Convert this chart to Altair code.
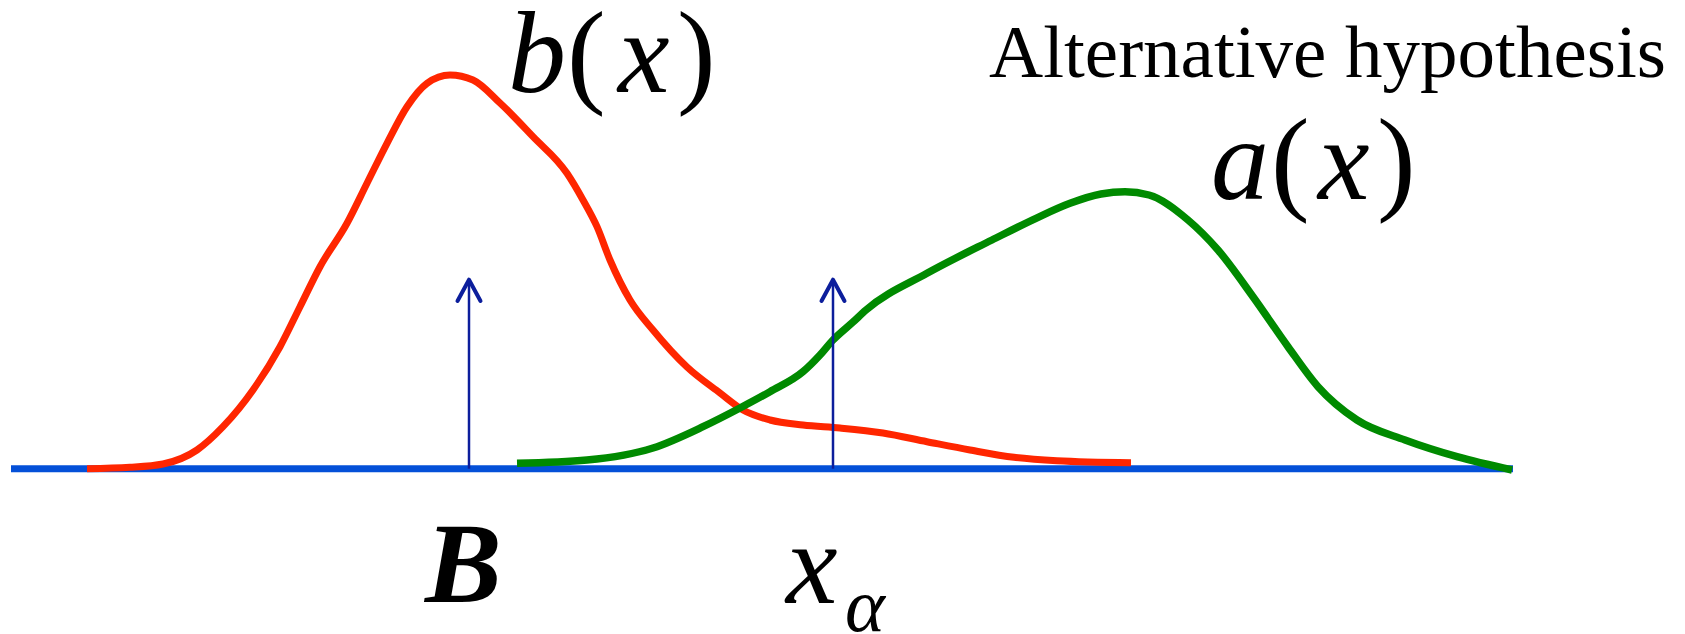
import altair as alt
import pandas as pd

# ---- data (x in horizontal units, y = density height above the baseline) ----
red_x = [0.79, 1.22, 1.55, 1.89, 2.15, 2.45, 2.72, 2.92, 3.12, 3.39, 3.59, 3.79,
         3.99, 4.19, 4.42, 4.65, 4.92, 5.25, 5.59, 5.75, 5.89, 6.02, 6.22, 6.45,
         6.79, 7.12, 7.35, 7.62, 7.95, 8.32, 8.75, 9.19, 9.62, 10.06, 10.49, 11.23]
red_y = [0.0, 0.014, 0.047, 0.187, 0.42, 0.787, 1.22, 1.62, 2.02, 2.454, 2.854, 3.254,
         3.62, 3.854, 3.937, 3.887, 3.657, 3.32, 2.954, 2.687, 2.42, 2.087, 1.687, 1.387,
         1.017, 0.757, 0.587, 0.487, 0.437, 0.407, 0.357, 0.27, 0.187, 0.114, 0.08, 0.06]

green_x = [5.09, 5.79, 6.45, 6.95, 7.32, 7.62, 7.95, 8.12, 8.25, 8.45, 8.58, 9.19,
           9.84, 10.28, 10.62, 10.93, 11.17, 11.41, 11.80, 12.10, 12.45, 12.80, 13.10,
           13.49, 13.97, 14.49, 15.04]
green_y = [0.054, 0.087, 0.207, 0.42, 0.607, 0.77, 0.97, 1.137, 1.287, 1.467, 1.587, 1.954,
           2.287, 2.504, 2.654, 2.747, 2.77, 2.737, 2.487, 2.187, 1.72, 1.22, 0.82,
           0.487, 0.287, 0.12, -0.013]

axis_x = [0.03, 15.05]
axis_y = [0.0, 0.0]

arrow_x = [4.61, 8.25]
arrow_top = [1.89, 1.89]

# label pieces: (text, x, y)
b_parts = [("b", 5.00), ("(", 5.59), ("x", 6.10), (")", 6.69)]
a_parts = [("a", 12.03), ("(", 12.63), ("x", 13.10), (")", 13.69)]
label_alt = "Alternative hypothesis"
label_B = "B"
label_x = "x"
label_alpha = "α"

# ---- scales ----
xs = alt.Scale(domain=[0, 16.69], nice=False, zero=False)
ys = alt.Scale(domain=[-1.633, 4.607], nice=False, zero=False)

def X(field):
    return alt.X(field, type="quantitative", scale=xs, axis=None)

def Y(field):
    return alt.Y(field, type="quantitative", scale=ys, axis=None)

axis_df = pd.DataFrame({"x": axis_x, "y": axis_y})
red_df = pd.DataFrame({"x": red_x, "y": red_y, "o": range(len(red_x))})
green_df = pd.DataFrame({"x": green_x, "y": green_y, "o": range(len(green_x))})
arrow_df = pd.DataFrame({"x": arrow_x, "top": arrow_top, "base": [0.0, 0.0]})

baseline = alt.Chart(axis_df).mark_line(color="#0450D8", strokeWidth=7, strokeCap="butt").encode(
    x=X("x"), y=Y("y"))

red = alt.Chart(red_df).mark_line(color="#FF2600", strokeWidth=7, interpolate="monotone",
                                  strokeCap="butt").encode(
    x=X("x"), y=Y("y"), order="o:Q")

green = alt.Chart(green_df).mark_line(color="#008A00", strokeWidth=7.5, interpolate="monotone",
                                      strokeCap="butt").encode(
    x=X("x"), y=Y("y"), order="o:Q")

arrows = alt.Chart(arrow_df).mark_rule(color="#0C1E9C", strokeWidth=2.5).encode(
    x=X("x"), y=Y("base"), y2="top")

heads = alt.Chart(arrow_df).mark_point(
    shape="M-1,0.85L0,-1L1,0.85", size=529, filled=False, color="#0C1E9C",
    strokeWidth=4, strokeCap="round", strokeJoin="round", yOffset=11.5, opacity=1).encode(
    x=X("x"), y=Y("top"))

def label(text, x, y, size, style="normal", weight="normal"):
    return alt.Chart(pd.DataFrame({"t": [text]})).mark_text(
        font="Liberation Serif", fontSize=size, fontStyle=style, fontWeight=weight,
        align="left", baseline="alphabetic", color="black").encode(
        x=alt.X(datum=x, type="quantitative", scale=xs, axis=None),
        y=alt.Y(datum=y, type="quantitative", scale=ys, axis=None),
        text="t:N")

def formula(parts, y):
    out = []
    for t, x in parts:
        style = "normal" if t in "()" else "italic"
        out.append(label(t, x, y, 116, style))
    return out

texts = (
    formula(b_parts, 3.767)
    + formula(a_parts, 2.697)
    + [
        label(label_alt, 9.81, 3.917, 75),
        label(label_B, 4.17, -1.333, 115, "italic", "bold"),
        label(label_x, 7.78, -1.343, 116, "italic"),
        label(label_alpha, 8.37, -1.623, 76, "italic"),
    ]
)

chart = alt.layer(baseline, red, green, arrows, heads, *texts).properties(
    width=1669, height=624, padding=0,
    autosize=alt.AutoSizeParams(type="none"),
    background="white",
).configure_view(stroke=None)

chart.save("out.html", embed_options={"renderer": "svg", "actions": False})
